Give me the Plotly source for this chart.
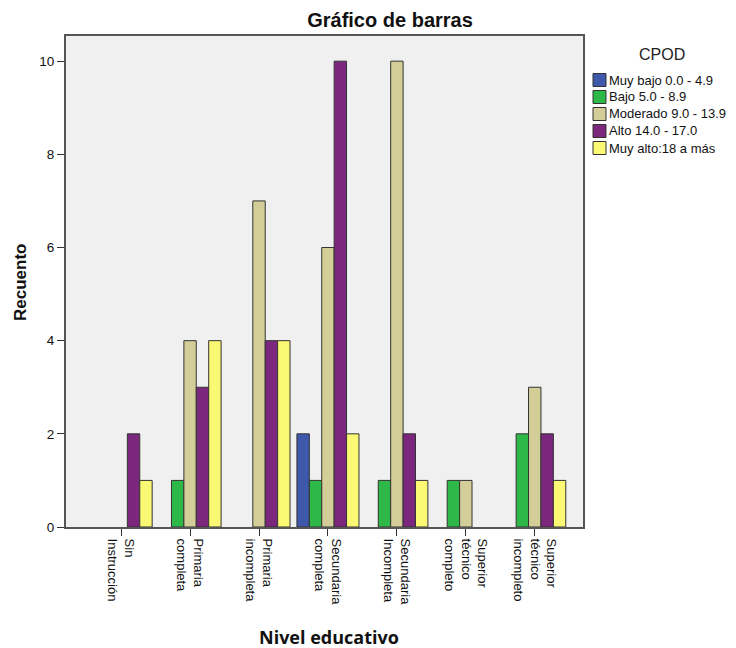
import plotly.graph_objects as go

categories = ["Sin<br>Instrucción", "Primaria<br>completa", "Primaria<br>incompleta",
              "Secundaria<br>completa", "Secundaria<br>Incompleta",
              "Superior<br>técnico<br>completo", "Superior<br>técnico<br>incompleto"]

series_names = ["Muy bajo 0.0 - 4.9", "Bajo 5.0 - 8.9", "Moderado 9.0 - 13.9",
                "Alto 14.0 - 17.0", "Muy alto:18 a más"]

muy_bajo = [0, 0, 0, 2, 0, 0, 0]
bajo = [0, 1, 0, 1, 1, 1, 2]
moderado = [0, 4, 7, 6, 10, 1, 3]
alto = [2, 3, 4, 10, 2, 0, 2]
muy_alto = [1, 4, 4, 2, 1, 0, 1]

y_ticks = [0, 2, 4, 6, 8, 10]

colors = ["#3E58AC", "#2EB848", "#D3CE97", "#7B277D", "#FBF873"]
values = [muy_bajo, bajo, moderado, alto, muy_alto]

fig = go.Figure()
for name, vals, col in zip(series_names, values, colors):
    fig.add_trace(go.Bar(
        x=list(range(len(categories))), y=[v if v else None for v in vals], name=name,
        marker=dict(color=col, line=dict(color="#333333", width=1)),
        showlegend=False,
    ))

OFF = 8  # browser default body margin
W, H = 736 - OFF, 648 - OFF
# target plot box in window pixels
X0, X1, Y0, Y1 = 66, 583, 36, 527
L, R, T, B = X0 - OFF, 736 - X1, Y0 - OFF, 648 - Y1
PW, PH = X1 - X0, Y1 - Y0


def px(x):
    return (x - X0) / PW


def py(y):
    return (Y1 - y) / PH


annotations = [
    dict(text="<b>Recuento</b>", xref="paper", yref="paper", x=px(20), y=py(283),
         textangle=-90, showarrow=False, font=dict(size=17, color="#111111"),
         xanchor="center", yanchor="middle"),
    dict(text="<b>Nivel educativo</b>", xref="paper", yref="paper", x=px(329),
         y=py(637), showarrow=False,
         font=dict(family="Open Sans, Liberation Sans", size=18, color="#111111"),
         xanchor="center", yanchor="middle"),
    dict(text="CPOD", xref="paper", yref="paper", x=px(662),
         y=py(54), showarrow=False,
         font=dict(size=16, color="#222222"), xanchor="center", yanchor="middle"),
]
shapes = []
for i, (name, col) in enumerate(zip(series_names, colors)):
    yc = 80 + 17 * i
    shapes.append(dict(type="rect", xref="paper", yref="paper",
                       x0=px(593), x1=px(606), y0=py(yc + 6.5), y1=py(yc - 6.5),
                       fillcolor=col, line=dict(color="#333333", width=1)))
    annotations.append(dict(text=name, xref="paper", yref="paper", x=px(607), y=py(yc),
                            showarrow=False, xanchor="left", yanchor="middle",
                            font=dict(size=13, color="#111111")))

fig.update_layout(
    width=W, height=H,
    barmode="group", bargap=0.1, bargroupgap=0,
    paper_bgcolor="white", plot_bgcolor="#F0F0F0",
    margin=dict(l=L, r=R, t=T, b=B, autoexpand=False),
    font=dict(family="Liberation Sans, Arial", size=12, color="#222222"),
    title=dict(text="<b>Gráfico de barras</b>", x=(390 - OFF) / W, xanchor="center",
               y=1 - (20 - OFF) / H, yanchor="middle",
               font=dict(size=20, color="#111111")),
    showlegend=False,
    xaxis=dict(
        range=[-0.8, 6.7], automargin=False,
        tickmode="array", tickvals=list(range(len(categories))), ticktext=categories,
        tickangle=90, ticks="outside", ticklen=7, tickcolor="#333333",
        showgrid=False, zeroline=False,
        showline=True, linecolor="#555555", linewidth=2, mirror=True,
        tickfont=dict(size=13, color="#111111"),
    ),
    yaxis=dict(
        range=[0, 10.54], automargin=False,
        tickmode="array", tickvals=y_ticks, ticktext=[str(v) for v in y_ticks],
        ticks="outside", ticklen=7, tickcolor="#333333",
        showgrid=False, zeroline=False,
        showline=True, linecolor="#555555", linewidth=2, mirror=True,
        tickfont=dict(size=13.5, color="#111111"),
    ),
    annotations=annotations,
    shapes=shapes,
)

fig.write_html("out.html")
